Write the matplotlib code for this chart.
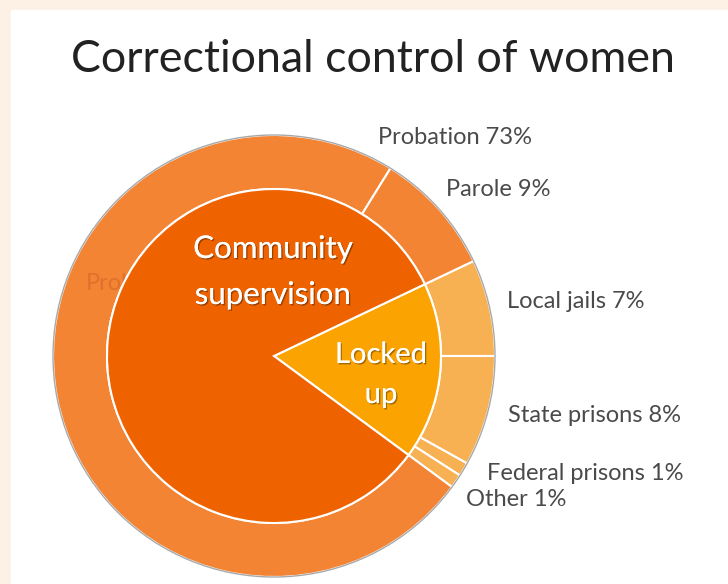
import matplotlib.pyplot as plt
import matplotlib.patheffects as pe
from matplotlib.patches import Rectangle, Circle

# outer ring, clockwise from the local jails wedge
outer_labels = ['Local jails', 'State prisons', 'Federal prisons', 'Other',
                'Probation', 'Parole']
outer_values = [7, 8, 1, 1, 73, 9]
outer_colors = ['#f8b152', '#f8b152', '#f8b152', '#f8b152', '#f28434', '#f28434']

# inner pie
inner_labels = [['Locked', 'up'], ['Community', 'supervision']]
inner_values = [sum(outer_values[:4]), sum(outer_values[4:])]
inner_colors = ['#fba300', '#ee6300']

W, H = 728, 584
plt.rcParams['font.family'] = ['Lato', 'DejaVu Sans']

fig = plt.figure(figsize=(W / 100, H / 100), dpi=100)
fig.patch.set_facecolor('#fdf1e6')
ax = fig.add_axes([0, 0, 1, 1])
ax.add_patch(Rectangle((11, 0), W - 11, H - 10, color='white', zorder=0))

cx, cy = 274, H - 356
r_out, r_in = 221, 167
start = outer_values[0] / sum(outer_values) * 360

ax.pie(outer_values, radius=r_out, center=(cx, cy), startangle=start,
       counterclock=False, colors=outer_colors,
       wedgeprops=dict(width=r_out - r_in, edgecolor='white', linewidth=1.5))
ax.add_patch(Circle((cx, cy), r_out, fill=False, edgecolor='#a8a8a8', lw=1, zorder=3))

# faint label hidden under the inner pie
ax.text(86, H - 283, 'Probation', color='#e0702c', fontsize=17, va='center', zorder=1.5)

wedges, _ = ax.pie(inner_values, radius=r_in, center=(cx, cy), startangle=start,
                   counterclock=False, colors=inner_colors,
                   wedgeprops=dict(edgecolor='white', linewidth=1.5))
for w in wedges:
    w.set_zorder(2)

shadow = [pe.withSimplePatchShadow(offset=(1, -1), shadow_rgbFace='black', alpha=0.35),
          pe.Normal()]
inner_pos = [[(381, 355), (381, 395)], [(273, 249), (273, 295)]]
inner_size = [21, 22.5]
for lines, pos, fs in zip(inner_labels, inner_pos, inner_size):
    for line, (x, y) in zip(lines, pos):
        ax.text(x, H - y, line, color='white', fontsize=fs, ha='center',
                va='center', path_effects=shadow, zorder=4)

label_pos = {'Probation': (378, 137), 'Parole': (446, 190), 'Local jails': (507, 301),
             'State prisons': (508, 415), 'Federal prisons': (487, 473), 'Other': (466, 500)}
for name, v in zip(outer_labels, outer_values):
    x, y = label_pos[name]
    ax.text(x, H - y, f'{name} {v}%', color='#4a4a4a', fontsize=17, va='center')

ax.text(373, H - 60, 'Correctional control of women', color='#222222', fontsize=32.2,
        ha='center', va='center')

ax.set_xlim(0, W)
ax.set_ylim(0, H)
ax.set_aspect('auto')
ax.axis('off')
fig.savefig('out.png', dpi=100)
